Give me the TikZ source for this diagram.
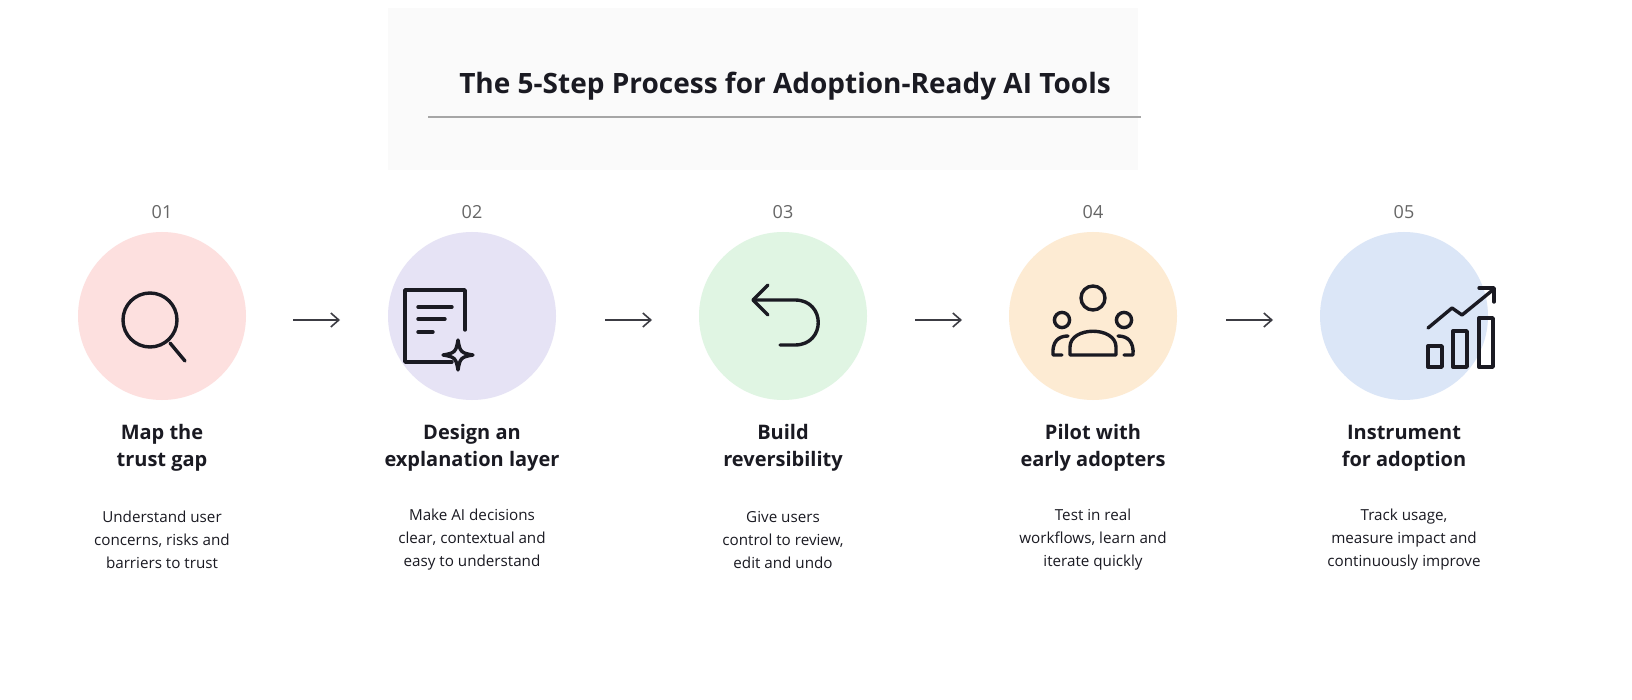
\documentclass[tikz,border=0pt]{standalone}
\usepackage{fontspec}
\setmainfont{Open Sans}
\usetikzlibrary{arrows.meta}
\definecolor{cpink}{HTML}{FDE0DF}
\definecolor{clav}{HTML}{E6E3F5}
\definecolor{cgreen}{HTML}{E0F5E3}
\definecolor{cpeach}{HTML}{FDEBD3}
\definecolor{cblue}{HTML}{DBE6F7}
\definecolor{ink}{HTML}{1A1A22}
\begin{document}
\begin{tikzpicture}[x=0.5pt,y=-0.5pt,
  circ/.style={circle,minimum size=84pt,inner sep=0pt},
  num/.style={font=\fontsize{9}{11}\selectfont,text=gray!80!black},
  ttl/.style={font=\fontsize{10}{13.5}\selectfont\bfseries,align=center,text=ink},
  desc/.style={font=\fontsize{7.6}{11.5}\selectfont,align=center,text=ink},
  arr/.style={-{Straight Barb[length=4pt,width=7pt]},line width=0.8pt,ink!85},
  ico/.style={line width=1.7pt,ink,line cap=round,line join=round}]
\useasboundingbox (0,0) rectangle (1632,700);
\fill[white] (0,0) rectangle (1632,700);
\fill[gray!4] (388,8) rectangle (1138,170);
\node[font=\fontsize{14}{16}\selectfont\bfseries,text=ink] (title) at (785,86) {The 5-Step Process for Adoption-Ready AI Tools};
\draw[gray!70,line width=0.7pt] (428,117) coordinate (ul1) -- (1141,117) coordinate (ul2);
% circles
\node[circ,fill=cpink] (c1) at (162,316) {};
\node[circ,fill=clav] (c2) at (472,316) {};
\node[circ,fill=cgreen] (c3) at (783,316) {};
\node[circ,fill=cpeach] (c4) at (1093,316) {};
\node[circ,fill=cblue] (c5) at (1404,316) {};
\foreach \i/\x/\n in {1/162/01,2/472/02,3/783/03,4/1093/04,5/1404/05}{
  \node[num] (n\i) at (\x,212) {\n};
}
\node[ttl] (t1) at (162,448) {Map the\\trust gap};
\node[ttl] (t2) at (472,448) {Design an\\explanation layer};
\node[ttl] (t3) at (783,448) {Build\\reversibility};
\node[ttl] (t4) at (1093,448) {Pilot with\\early adopters};
\node[ttl] (t5) at (1404,448) {Instrument\\for adoption};
\node[desc] (d1) at (162,540) {Understand user\\concerns, risks and\\barriers to trust};
\node[desc] (d2) at (472,540) {Make AI decisions\\clear, contextual and\\easy to understand};
\node[desc] (d3) at (783,540) {Give users\\control to review,\\edit and undo};
\node[desc] (d4) at (1093,540) {Test in real\\workflows, learn and\\iterate quickly};
\node[desc] (d5) at (1404,540) {Track usage,\\measure impact and\\continuously improve};
% arrows
\foreach \a/\b in {293/340,605/652,915/962,1226/1273}{
  \coordinate (s\a) at (\a,320); \coordinate (e\a) at (\b,320);
  \draw[arr] (s\a) -- (e\a);
}
% icon 1 magnifier
\draw[ico] (150,320) circle (13.5pt);
\draw[ico] (170,343) -- (185,361);
% icon 2 document
\draw[ico] (452,362) -- (405,362) -- (405,290) -- (465,290) -- (465,330);
\draw[ico] (418,307) -- (452,307) (418,319) -- (445,319) (418,332) -- (433,332);
\draw[ico] (458,340) .. controls (460,352) and (461,353) .. (473,355)
  .. controls (461,357) and (460,358) .. (458,370)
  .. controls (456,358) and (455,357) .. (443,355)
  .. controls (455,353) and (456,352) .. (458,340) -- cycle;
% icon 3 undo
\draw[ico] (768,285) -- (753,300) -- (768,315);
\draw[ico] (753,300) -- (795,300) .. controls (826,300) and (826,345) .. (795,345) -- (780,345);
% icon 4 people
\draw[ico] (1093,298) circle (6pt);
\draw[ico] (1062,320) circle (3.8pt);
\draw[ico] (1124,320) circle (3.8pt);
\draw[ico] (1070,355) -- (1070,347) .. controls (1070,326) and (1116,326) .. (1116,347) -- (1116,355) -- cycle;
\draw[ico] (1062,355) -- (1053,355) .. controls (1052,342) and (1058,336) .. (1068,336);
\draw[ico] (1124,355) -- (1133,355) .. controls (1134,342) and (1128,336) .. (1118,336);
% icon 5 chart
\draw[ico] (1428,346) rectangle (1442,367);
\draw[ico] (1453,331) rectangle (1467,367);
\draw[ico] (1479,318) rectangle (1493,367);
\draw[ico] (1428,328) -- (1452,308) -- (1462,315) -- (1494,289);
\draw[ico] (1479,288) -- (1494,288) -- (1494,302);
\end{tikzpicture}
\end{document}
